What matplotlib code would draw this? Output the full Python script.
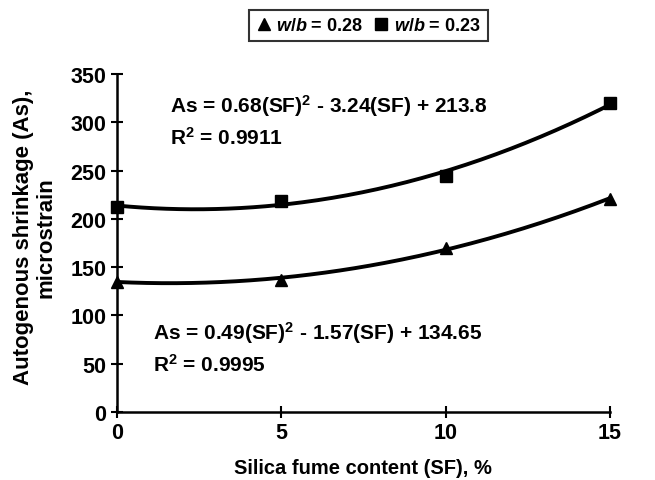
import numpy as np
import matplotlib
matplotlib.use("Agg")
import matplotlib.pyplot as plt

plt.rcParams['font.family'] = ['Liberation Sans', 'DejaVu Sans']
plt.rcParams['mathtext.fontset'] = 'custom'
plt.rcParams['mathtext.rm'] = 'Liberation Sans:bold'
plt.rcParams['mathtext.it'] = 'Liberation Sans:italic:bold'
plt.rcParams['mathtext.bf'] = 'Liberation Sans:bold'

sf = [0, 5, 10, 15]
as_028 = [135, 137, 170, 221]
as_023 = [212, 219, 244, 320]
coef_028 = [0.49, -1.57, 134.65]
coef_023 = [0.68, -3.24, 213.8]
xticks = [0, 5, 10, 15]
yticks = [0, 50, 100, 150, 200, 250, 300, 350]

fig = plt.figure(figsize=(6.55, 4.81), dpi=100)
ax = fig.add_axes([0.1786, 0.1414, 0.7524, 0.7026])

xs = np.linspace(0, 15, 200)
ax.plot(xs, np.polyval(coef_028, xs), color='black', lw=2.8, zorder=2)
ax.plot(xs, np.polyval(coef_023, xs), color='black', lw=2.8, zorder=2)
h1, = ax.plot(sf, as_028, linestyle='none', marker='^', color='black', ms=9, clip_on=False, zorder=3,
              label=r'$w/b$ = 0.28')
h2, = ax.plot(sf, as_023, linestyle='none', marker='s', color='black', ms=8, clip_on=False, zorder=3,
              label=r'$w/b$ = 0.23')

ax.set_xlim(0, 15)
ax.set_ylim(0, 350)
ax.set_xticks(xticks)
ax.set_yticks(yticks)
for s in ['top', 'right']:
    ax.spines[s].set_visible(False)
for s in ['left', 'bottom']:
    ax.spines[s].set_linewidth(1.8)
ax.tick_params(direction='inout', length=9, width=1.5, labelsize=15.5, pad=3)
for lab in ax.get_xticklabels() + ax.get_yticklabels():
    lab.set_fontweight('semibold')

ax.set_xlabel('Silica fume content (SF), %', fontsize=14.5, fontweight='semibold')
ax.xaxis.set_label_coords(0.5, -0.135)
ax.set_ylabel('Autogenous shrinkage (As),\nmicrostrain', fontsize=16, fontweight='semibold',
              linespacing=1.1)
ax.yaxis.set_label_coords(-0.122, 0.52)

fs_eq = 15
ax.text(1.6, 318, r'As = 0.68(SF)$^{2}$ - 3.24(SF) + 213.8', fontsize=fs_eq, fontweight='semibold', va='center')
ax.text(1.6, 285, r'R$^{2}$ = 0.9911', fontsize=fs_eq, fontweight='semibold', va='center')
ax.text(1.1, 83, r'As = 0.49(SF)$^{2}$ - 1.57(SF) + 134.65', fontsize=fs_eq, fontweight='semibold', va='center')
ax.text(1.1, 50, r'R$^{2}$ = 0.9995', fontsize=fs_eq, fontweight='semibold', va='center')

leg = fig.legend(handles=[h1, h2], loc='center', bbox_to_anchor=(0.563, 0.945), ncol=2,
                 frameon=True, fancybox=False, edgecolor='black', fontsize=13,
                 handlelength=0.8, handletextpad=0.3, columnspacing=0.6, borderpad=0.4)
leg.get_frame().set_linewidth(1.5)
for t in leg.get_texts():
    t.set_fontweight('semibold')

fig.savefig('out.png', dpi=100)
